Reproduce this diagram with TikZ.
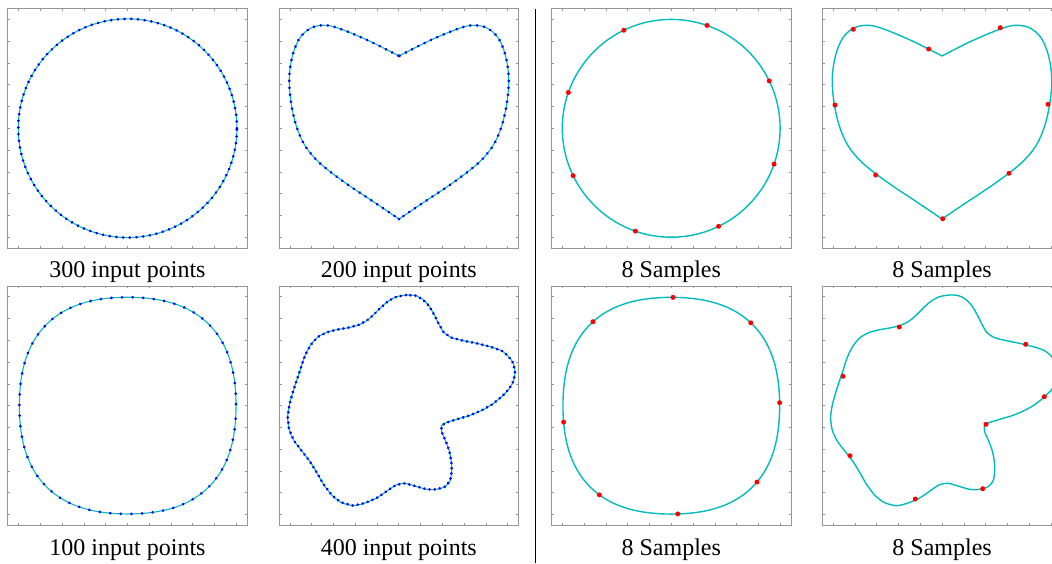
\documentclass[tikz,border=0pt]{standalone}
\usepackage{fontspec}
\setmainfont{Liberation Serif}
\usetikzlibrary{decorations.markings}
\definecolor{cy}{RGB}{0,188,188}
\definecolor{boxgray}{RGB}{150,150,150}
\tikzset{
 boxline/.style={draw=boxgray, line width=0.7pt},
 inline/.style={draw=cy, line width=1.1pt},
 sampline/.style={draw=cy, line width=1.4pt},
 bluedots/.style={postaction={decorate}, decoration={markings, mark=between positions 0 and 1 step #1 with {\fill[blue] (0,0) circle (1.5pt);}}},
 bluedotsopen/.style={postaction={decorate}, decoration={markings, mark=between positions 0.002 and 0.995 step #1 with {\fill[blue] (0,0) circle (1.5pt);}}},
 dotsonly/.style={decorate, decoration={markings, mark=between positions 0.001 and 0.996 step #1 with {\fill[blue] (0,0) circle (1.5pt);}}},
 lab/.style={font=\fontsize{24}{28}\selectfont, anchor=base, inner sep=0pt},
}
\newcommand{\axisbox}[2]{%
 \begin{scope}[shift={(#1pt,-#2pt)}, x=108.9pt, y=108.9pt]
 \draw[boxline] (-1.1,-1.1) rectangle (1.1,1.1);
 \foreach \i in {0,...,10}{
  \draw[boxline] ({-1+0.2*\i},-1.1) -- ++(0,2.5pt);
  \draw[boxline] ({-1+0.2*\i},1.1) -- ++(0,-2.5pt);
  \draw[boxline] (-1.1,{-1+0.2*\i}) -- ++(2.5pt,0);
  \draw[boxline] (1.1,{-1+0.2*\i}) -- ++(-2.5pt,0);
 }
 \end{scope}}
\newcommand{\heartshape}[2]{%
 \begin{scope}[shift={(#1pt,0pt)}]
 \draw[#2] plot[smooth, tension=0.55] coordinates {(129,56) (100,41.33) (73.33,30) (56.67,25.33) (41.67,27.67) (30,37.67) (22.67,55) (19.33,76.67) (20.67,100) (26,125) (35,145.67) (50,163.33) (75,182.67) (103.33,201.67) (129,219)};
 \draw[#2] plot[smooth, tension=0.55] coordinates {(129,56) (158,41.33) (184.67,30) (201.33,25.33) (216.33,27.67) (228,37.67) (235.33,55) (238.67,76.67) (237.33,100) (232,125) (223,145.67) (208,163.33) (183,182.67) (154.67,201.67) (129,219)};
 \end{scope}}
\newcommand{\blobshape}[2]{%
 \begin{scope}[shift={(#1pt,-280pt)}]
 \draw[#2] plot[smooth cycle, tension=0.5] coordinates {(136.67,15) (126.67,16.67) (118.33,21) (110.67,27.67) (104,34.33) (96.67,40.67) (88.33,45) (78.33,47.67) (66.67,49.67) (56.67,52.33) (48.33,56.67) (42.33,62.67) (37.33,70.67) (33.33,80) (29.67,91.67) (25.67,103.33) (22,115) (19.33,125) (17.67,136.67) (19,149) (24,160.67) (32.33,171.67) (40,181.67) (46.67,192.33) (53.33,204) (61.67,215) (71,222.33) (83.33,225.67) (95,223) (106.67,218) (117.33,210.67) (126.67,204.67) (135,203.33) (145,206) (156.67,209.33) (166.67,209.33) (175,206.67) (180,201) (181.67,191.67) (181.33,181.67) (179.33,171) (175.67,161) (172,152.67) (171.33,146) (176,142.67) (186.67,139.33) (200,135.33) (211.67,130.33) (221.67,124.67) (231.67,116.67) (239,109) (243.67,100.67) (245,91.67) (243.33,83.33) (238.67,76.67) (231.67,70.67) (220,66.67) (206.67,63.33) (193.33,60.67) (181.67,57.67) (174,52.67) (169,44.33) (164.33,35) (159,26) (152.67,19.33) (145.67,15.67)};
 \end{scope}}
\newcommand{\blobdots}[2]{%
 \begin{scope}[shift={(#1pt,-280pt)}]
 \path[#2] plot coordinates {(136.67,15) (126.67,16.67) (118.33,21) (110.67,27.67) (104,34.33) (96.67,40.67) (88.33,45) (78.33,47.67) (66.67,49.67) (56.67,52.33) (48.33,56.67) (42.33,62.67) (37.33,70.67) (33.33,80) (29.67,91.67) (25.67,103.33) (22,115) (19.33,125) (17.67,136.67) (19,149) (24,160.67) (32.33,171.67) (40,181.67) (46.67,192.33) (53.33,204) (61.67,215) (71,222.33) (83.33,225.67) (95,223) (106.67,218) (117.33,210.67) (126.67,204.67) (135,203.33) (145,206) (156.67,209.33) (166.67,209.33) (175,206.67) (180,201) (181.67,191.67) (181.33,181.67) (179.33,171) (175.67,161) (172,152.67) (171.33,146) (176,142.67) (186.67,139.33) (200,135.33) (211.67,130.33) (221.67,124.67) (231.67,116.67) (239,109) (243.67,100.67) (245,91.67) (243.33,83.33) (238.67,76.67) (231.67,70.67) (220,66.67) (206.67,63.33) (193.33,60.67) (181.67,57.67) (174,52.67) (169,44.33) (164.33,35) (159,26) (152.67,19.33) (145.67,15.67) (136.67,15)};
 \end{scope}}
\begin{document}
\begin{tikzpicture}[x=1pt, y=-1pt]
\path[use as bounding box] (0,0) rectangle (1052,563);
\clip (0,0) rectangle (1052,563);
% boxes
\axisbox{127.5}{128.3}
\axisbox{398.8}{128.3}
\axisbox{671.3}{128.3}
\axisbox{942.1}{128.3}
\axisbox{127.5}{405.7}
\axisbox{398.8}{405.7}
\axisbox{671.3}{405.7}
\axisbox{942.1}{405.7}
% panel 1: circle
\begin{scope}[shift={(127.6pt,-128.2pt)}, x=108.9pt, y=108.9pt]
 \draw[inline, bluedots=6.72pt] (0,0) circle (1.004);
\end{scope}
% panel 2: heart
\heartshape{270}{inline, bluedotsopen=7pt}
\fill[blue] (399,56) circle (1.5pt);
\fill[blue] (399,219) circle (1.5pt);
% panel 3: circle samples
\begin{scope}[shift={(671.2pt,-128.3pt)}, x=108.9pt, y=108.9pt]
 \draw[sampline] (0,0) circle (1);
 \foreach \a in {25.8,70.8,115.8,160.8,205.8,250.8,295.8,340.8}
  \fill[red] (\a:1) circle (2.5pt);
\end{scope}
% panel 4: heart samples
\heartshape{813}{sampline}
\foreach \p in {(853.3,29.3),(928.7,49),(1000.3,27.7),(1048,104.3),(1009,173.3),(942.7,218.7),(875.7,175),(835,105)}
 \fill[red] \p circle (2.5pt);
% panel 5: rounded square
\begin{scope}[shift={(127.7pt,-405.6pt)}, x=108.9pt, y=108.9pt]
 \draw[inline, bluedotsopen=10.6pt] plot[domain=0:360, samples=241, variable=\t] ({0.995*(1.03-0.03*cos(4*\t))*cos(\t)}, {0.995*(1.03-0.03*cos(4*\t))*sin(\t)});
\end{scope}
% panel 6: blob
\blobshape{270}{inline}
\blobdots{270}{dotsonly=5.2pt}
% panel 7: rounded square samples
\begin{scope}[shift={(671.3pt,-405.7pt)}, x=108.9pt, y=108.9pt]
 \draw[sampline] plot[domain=0:360, samples=241, variable=\t] ({0.995*(1.03-0.03*cos(4*\t))*cos(\t)}, {0.995*(1.03-0.03*cos(4*\t))*sin(\t)}) -- cycle;
 \foreach \a in {89.1,46.2,1.6,-41.7,-86.6,-128.9,-171.3,133}
  \fill[red] (\a:{0.995*(1.03-0.03*cos(4*\a))}) circle (2.5pt);
\end{scope}
% panel 8: blob samples
\blobshape{813}{sampline}
\foreach \p in {(899.3,327),(1025.7,344.3),(1044.3,396.7),(986,424.3),(982.7,488.7),(915.3,499),(850,455.7),(843,376.3)}
 \fill[red] \p circle (2.5pt);
% separator
\coordinate (septop) at (535.3,9.3);
\coordinate (sepbot) at (535.3,563);
\draw[line width=1.3pt] (septop) -- (sepbot);
% labels
\node[lab] (l1) at (127.5,277.5) {300 input points};
\node[lab] (l2) at (398.8,277.5) {200 input points};
\node[lab] (l3) at (671.3,277.5) {8 Samples};
\node[lab] (l4) at (942.1,277.5) {8 Samples};
\node[lab] (l5) at (127.5,555) {100 input points};
\node[lab] (l6) at (398.8,555) {400 input points};
\node[lab] (l7) at (671.3,555) {8 Samples};
\node[lab] (l8) at (942.1,555) {8 Samples};
\end{tikzpicture}
\end{document}
